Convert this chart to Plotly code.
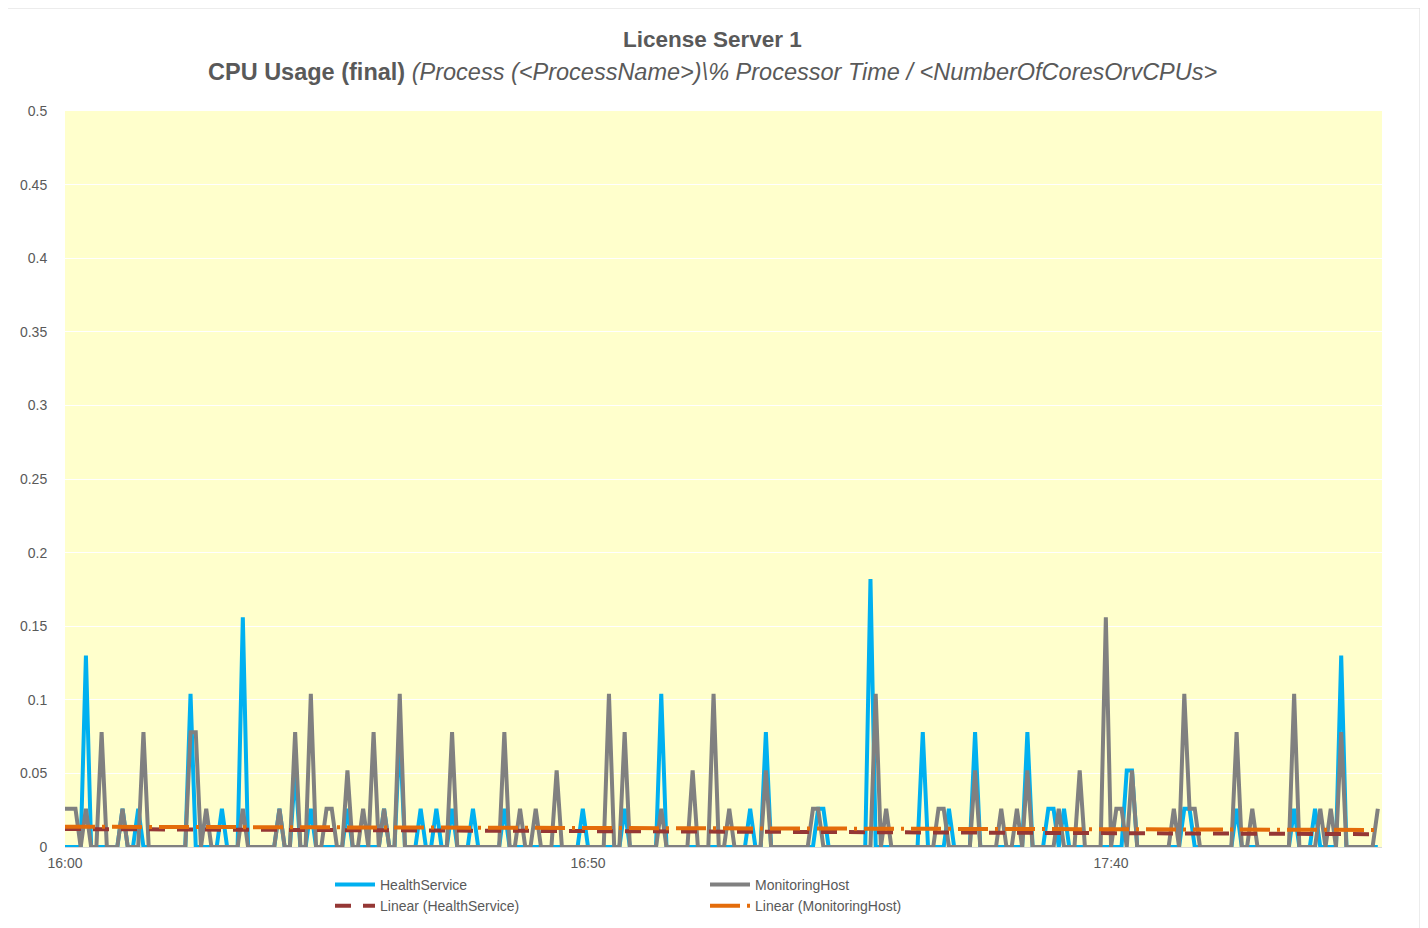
import numpy as np
import pandas as pd
import plotly.graph_objects as go

# samples every 30 s starting 16:00
times = pd.date_range("2020-01-01 16:00:00", periods=252, freq="30s")

health_service = [
    0, 0, 0, 0, .13, 0, 0, 0, 0, 0, 0, .026,
    0, 0, .026, 0, 0, 0, 0, 0, 0, 0, 0, 0,
    .104, 0, 0, 0, 0, 0, .026, 0, 0, 0, .156, 0,
    0, 0, 0, 0, 0, .026, 0, 0, .052, 0, 0, .026,
    0, 0, 0, 0, 0, 0, .026, 0, 0, 0, 0, 0,
    0, .026, 0, 0, .078, 0, 0, 0, .026, 0, 0, .026,
    0, 0, .026, 0, 0, 0, .026, 0, 0, 0, 0, 0,
    .026, 0, 0, 0, 0, 0, 0, 0, 0, 0, 0, 0,
    0, 0, 0, .026, 0, 0, 0, 0, 0, 0, 0, .026,
    0, 0, 0, 0, 0, 0, .104, 0, 0, 0, 0, 0,
    0, 0, 0, 0, 0, 0, 0, 0, 0, 0, 0, .026,
    0, 0, .078, 0, 0, 0, 0, 0, 0, 0, 0, 0,
    .026, .026, 0, 0, 0, 0, 0, 0, 0, 0, .182, 0,
    0, 0, 0, 0, 0, 0, 0, 0, .078, 0, 0, 0,
    0, .026, 0, 0, 0, 0, .078, 0, 0, 0, 0, 0,
    0, 0, 0, 0, .078, 0, 0, 0, .026, .026, 0, .026,
    0, 0, 0, 0, 0, 0, 0, 0, 0, 0, 0, .052,
    .052, 0, 0, 0, 0, 0, 0, 0, 0, 0, .026, .026,
    0, 0, 0, 0, 0, 0, 0, 0, .026, 0, 0, 0,
    0, 0, 0, 0, 0, 0, 0, .026, 0, 0, 0, .026,
    0, 0, 0, 0, .13, 0, 0, 0, 0, 0, 0, 0,
]

monitoring_host = [
    .026, .026, .026, 0, .026, 0, 0, .078, 0, 0, 0, .026,
    0, 0, 0, .078, 0, 0, 0, 0, 0, 0, 0, 0,
    .078, .078, 0, .026, 0, 0, 0, 0, 0, 0, .026, 0,
    0, 0, 0, 0, 0, .026, 0, 0, .078, 0, 0, .104,
    0, 0, .026, .026, 0, 0, .052, 0, 0, .026, 0, .078,
    0, .026, 0, 0, .104, 0, 0, 0, 0, 0, 0, 0,
    0, 0, .078, 0, 0, 0, 0, 0, 0, 0, 0, 0,
    .078, 0, 0, .026, 0, 0, .026, 0, 0, 0, .052, 0,
    0, 0, 0, 0, 0, 0, 0, 0, .104, 0, 0, .078,
    0, 0, 0, 0, 0, 0, .026, 0, 0, 0, 0, 0,
    .052, 0, 0, 0, .104, 0, 0, .026, 0, 0, 0, 0,
    0, 0, .052, 0, 0, 0, 0, 0, 0, 0, 0, .026,
    .026, 0, 0, 0, 0, 0, 0, 0, 0, 0, 0, .104,
    0, .026, 0, 0, 0, 0, 0, 0, 0, 0, 0, .026,
    .026, 0, 0, 0, 0, 0, .052, 0, 0, 0, 0, .026,
    0, 0, .026, 0, .052, 0, 0, 0, 0, 0, .026, 0,
    0, 0, .052, 0, 0, 0, 0, .156, 0, .026, .026, 0,
    .052, 0, 0, 0, 0, 0, 0, 0, .026, 0, .104, .026,
    .026, 0, 0, 0, 0, 0, 0, 0, .078, 0, 0, .026,
    0, 0, 0, 0, 0, 0, 0, .104, 0, 0, 0, 0,
    .026, 0, .026, 0, .078, 0, 0, 0, 0, 0, 0, .026,
]

# trendline ends (start, end)
trend_hs = [0.0122, 0.0087]
trend_mh = [0.0138, 0.0116]

FONT = "Liberation Sans"
GREY_TXT = "#595959"

# page body has an 8px margin, so the figure is drawn 8px in from the corner
W, H = 1420, 920
L, T = 57, 103
PW, PH = 1317, 736

def px_x(x):
    return (x - 8 - L) / PW

def px_y(y):
    return (T + PH - (y - 8)) / PH

def cont_y(y):
    return 1 - (y - 8) / H

fig = go.Figure()
fig.add_trace(go.Scatter(x=times, y=health_service, mode="lines", name="HealthService",
                         line=dict(color="#00B0F0", width=4), legend="legend"))
fig.add_trace(go.Scatter(x=times, y=monitoring_host, mode="lines", name="MonitoringHost",
                         line=dict(color="#808080", width=4), legend="legend2"))
fig.add_trace(go.Scatter(x=[times[0], times[-1]], y=trend_hs, mode="lines",
                         name="Linear (HealthService)", legend="legend",
                         line=dict(color="#953735", width=4, dash="16px,12px")))
fig.add_trace(go.Scatter(x=[times[0], times[-1]], y=trend_mh, mode="lines",
                         name="Linear (MonitoringHost)", legend="legend2",
                         line=dict(color="#E46C0A", width=4, dash="30px,7px,3px,7px")))

x_end = times[0] + pd.Timedelta(minutes=125.9)

fig.update_layout(
    width=W, height=H,
    margin=dict(l=L, r=W - L - PW, t=T, b=H - T - PH, autoexpand=False),
    paper_bgcolor="white",
    plot_bgcolor="#FFFFCC",
    font=dict(family=FONT, size=14, color=GREY_TXT),
    xaxis=dict(type="date", range=[times[0], x_end], tickformat="%H:%M",
               dtick=50 * 60 * 1000, tick0=times[0], showgrid=False,
               showline=True, linecolor="#D9D9D9", linewidth=1,
               ticks="outside", ticklen=3, tickcolor="rgba(0,0,0,0)",
               tickfont=dict(size=14, color=GREY_TXT), zeroline=False),
    yaxis=dict(range=[0, 0.5], dtick=0.05, tick0=0, showgrid=True,
               gridcolor="white", gridwidth=1, zeroline=False, showline=False,
               ticks="outside", ticklen=14, tickcolor="rgba(0,0,0,0)",
               tickfont=dict(size=14, color=GREY_TXT)),
    legend=dict(x=px_x(330), y=cont_y(869), yref="container", xanchor="left", yanchor="top",
                bgcolor="rgba(0,0,0,0)", font=dict(size=14, color=GREY_TXT),
                tracegroupgap=0, itemwidth=40),
    legend2=dict(x=px_x(705), y=cont_y(869), yref="container", xanchor="left", yanchor="top",
                 bgcolor="rgba(0,0,0,0)", font=dict(size=14, color=GREY_TXT),
                 tracegroupgap=0, itemwidth=40),
    showlegend=True,
)

fig.add_annotation(text="<b>License Server 1</b>", xref="paper", yref="paper",
                   x=px_x(712), y=px_y(39), xanchor="center", yanchor="middle",
                   showarrow=False, font=dict(size=22.5, color=GREY_TXT, family=FONT))
fig.add_annotation(text="<b>CPU Usage (final)</b> <i>(Process (&lt;ProcessName&gt;)\\% Processor Time / "
                        "&lt;NumberOfCoresOrvCPUs&gt;</i>",
                   xref="paper", yref="paper", x=px_x(712), y=px_y(72),
                   xanchor="center", yanchor="middle", showarrow=False,
                   font=dict(size=23.5, color=GREY_TXT, family=FONT))

# chart border
fig.add_shape(type="rect", xref="paper", yref="paper",
              x0=px_x(5), x1=px_x(1420), y0=px_y(945), y1=px_y(8),
              line=dict(color="#D9D9D9", width=1), fillcolor="rgba(0,0,0,0)", layer="below")

fig.write_html("out.html")
